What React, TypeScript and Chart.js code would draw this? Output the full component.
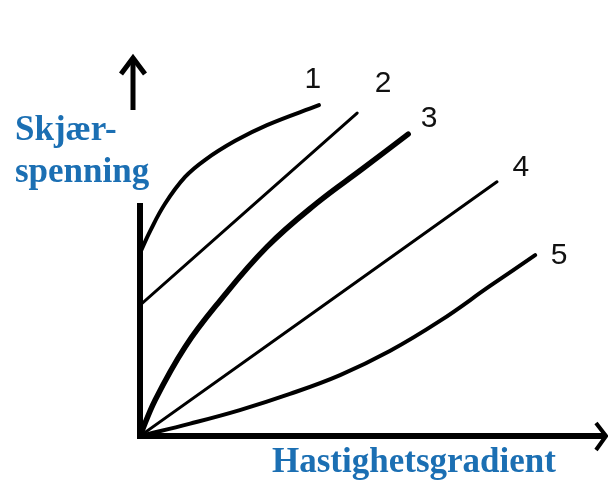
import React, { useEffect, useRef } from "react";
import { Chart, registerables } from "chart.js";

Chart.register(...registerables);

// Flow curves (shear stress vs. velocity gradient)
const curve1X = [0, 0.22, 0.54, 0.98, 1.41, 2.07, 2.76, 3.89];
const curve1Y = [4.87, 5.45, 6.17, 6.89, 7.34, 7.85, 8.27, 8.8];
const curve2X = [0, 4.72];
const curve2Y = [3.48, 8.59];
const curve3X = [0, 0.33, 0.98, 1.7, 2.76, 3.85, 4.83, 5.83];
const curve3Y = [0, 0.96, 2.37, 3.54, 5.03, 6.2, 7.1, 8.03];
const curve4X = [0, 7.76];
const curve4Y = [0, 6.76];
const curve5X = [0, 1.09, 2.17, 3.26, 4.35, 5.43, 6.52, 7.61, 8.59];
const curve5Y = [0, 0.33, 0.69, 1.12, 1.62, 2.26, 3.06, 3.99, 4.81];

const curveLabels = ["1", "2", "3", "4", "5"];
const yTitleLines = ["Skjær-", "spenning"];
const xTitle = "Hastighetsgradient";

const pts = (xs: number[], ys: number[]) => xs.map((x, i) => ({ x, y: ys[i] }));

const BLUE = "#1b6fb3";

const decorPlugin = {
  id: "decor",
  afterDatasetsDraw(chart: any) {
    const ctx = chart.ctx as CanvasRenderingContext2D;
    const xs = chart.scales.x;
    const ys = chart.scales.y;
    const ox = xs.getPixelForValue(0);
    const oy = ys.getPixelForValue(0);
    ctx.save();
    ctx.strokeStyle = "#000";
    ctx.lineCap = "butt";
    ctx.lineJoin = "miter";
    // y axis
    ctx.lineWidth = 6;
    ctx.beginPath();
    ctx.moveTo(ox, oy + 3);
    ctx.lineTo(ox, ys.getPixelForValue(6.2));
    ctx.stroke();
    // x axis
    ctx.beginPath();
    ctx.moveTo(ox - 3, oy);
    ctx.lineTo(606, oy);
    ctx.stroke();
    ctx.lineWidth = 4;
    ctx.beginPath();
    ctx.moveTo(596, oy - 13);
    ctx.lineTo(606, oy);
    ctx.lineTo(596, oy + 14);
    ctx.stroke();
    // up arrow
    const ax = ox - 7;
    ctx.lineWidth = 5;
    ctx.beginPath();
    ctx.moveTo(ax, 110);
    ctx.lineTo(ax, 60);
    ctx.stroke();
    ctx.lineWidth = 5;
    ctx.beginPath();
    ctx.moveTo(ax - 12, 74);
    ctx.lineTo(ax, 58);
    ctx.lineTo(ax + 12, 74);
    ctx.stroke();

    // curve number labels
    const offs = [
      [-6, -25],
      [26, -29],
      [21, -15],
      [24, -14],
      [24, 1],
    ];
    ctx.fillStyle = "#111";
    ctx.font = '30px "Liberation Sans", Arial, sans-serif';
    ctx.textAlign = "center";
    ctx.textBaseline = "middle";
    chart.data.datasets.forEach((ds: any, i: number) => {
      const last = ds.data[ds.data.length - 1];
      const px = xs.getPixelForValue(last.x) + offs[i][0];
      const py = ys.getPixelForValue(last.y) + offs[i][1];
      ctx.fillText(curveLabels[i], px, py);
    });

    // titles
    ctx.fillStyle = BLUE;
    ctx.font = 'bold 35px "Liberation Serif", "Times New Roman", serif';
    ctx.textAlign = "left";
    ctx.textBaseline = "alphabetic";
    ctx.fillText(yTitleLines[0], 15, 140);
    ctx.fillText(yTitleLines[1], 15, 182);
    ctx.fillText(xTitle, 272, 472);
    ctx.restore();
  },
};

export default function App() {
  const ref = useRef<HTMLCanvasElement | null>(null);
  useEffect(() => {
    if (!ref.current) return;
    const mk = (xs: number[], ys: number[], w: number) => ({
      data: pts(xs, ys),
      borderColor: "#000",
      borderWidth: w,
      pointRadius: 0,
      fill: false,
      tension: 0.4,
      borderCapStyle: "round" as const,
    });
    const chart = new Chart(ref.current, {
      type: "line",
      data: {
        datasets: [
          mk(curve1X, curve1Y, 4),
          mk(curve2X, curve2Y, 3),
          mk(curve3X, curve3Y, 5.5),
          mk(curve4X, curve4Y, 3),
          mk(curve5X, curve5Y, 4),
        ],
      },
      options: {
        animation: false,
        responsive: false,
        devicePixelRatio: 1,
        layout: { padding: { left: 140, right: 8, top: 60, bottom: 54 } },
        plugins: { legend: { display: false }, tooltip: { enabled: false } },
        scales: {
          x: { type: "linear", min: 0, max: 10, display: false },
          y: { type: "linear", min: 0, max: 10, display: false },
        },
      },
      plugins: [decorPlugin],
    });
    return () => chart.destroy();
  }, []);
  return (
    <div style={{ position: "fixed", left: 0, top: 0, width: 608, height: 490, background: "#fff" }}>
      <canvas ref={ref} width={608} height={490} />
    </div>
  );
}
